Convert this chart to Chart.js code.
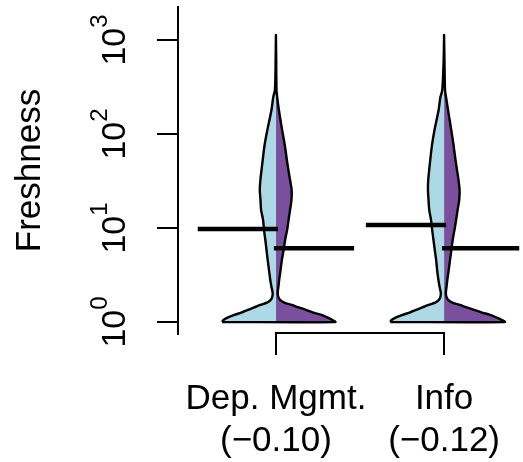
<!DOCTYPE html>
<html>
<head>
<meta charset="utf-8">
<script src="https://cdn.jsdelivr.net/npm/chart.js@4.4.1/dist/chart.umd.min.js"></script>
<style>
html,body{margin:0;padding:0;background:#fff;}
#wrap{width:523px;height:462px;}
</style>
</head>
<body>
<div id="wrap"><canvas id="c" width="523" height="462"></canvas></div>
<script>
// ---------------- data ----------------
const categories = ['Dep. Mgmt.', 'Info'];
const correlations = ['(\u22120.10)', '(\u22120.12)'];
const yTickValues = [1, 10, 100, 1000];
const yTickExponents = ['0', '1', '2', '3'];

// Freshness levels at which the bean densities were read
const freshnessLevels = [1.00, 1.05, 1.10, 1.19, 1.26, 1.34, 1.43, 1.52, 1.61, 1.71, 1.84, 2.03, 2.36, 2.8, 3.57, 4.56,
  5.83, 7.45, 9.5, 12.2, 15.6, 19.8, 25.3, 32.4, 49.2, 76, 110, 180, 247, 294, 614, 1130];

// densities (relative units) for each half bean
const depMgmtBlueDensity = [5.45, 5.3, 5.0, 4.2, 3.5, 2.9, 2.2, 1.57, 0.9, 0.55, 0.38, 0.33, 0.45, 0.57, 0.70, 0.83,
  0.95, 1.07, 1.20, 1.30, 1.50, 1.56, 1.63, 1.57, 1.37, 1.15, 0.87, 0.45, 0.27, 0.10, 0.03, 0];
const depMgmtPurpleDensity = [6.0, 5.7, 5.35, 4.6, 3.8, 3.1, 2.3, 1.6, 0.85, 0.45, 0.25, 0.18, 0.25, 0.33, 0.47, 0.60,
  0.78, 0.93, 1.13, 1.28, 1.43, 1.57, 1.59, 1.43, 1.15, 0.90, 0.63, 0.30, 0.13, 0.06, 0.03, 0];
const infoBlueDensity = [5.45, 5.3, 5.0, 4.2, 3.5, 2.9, 2.2, 1.57, 0.9, 0.55, 0.38, 0.33, 0.45, 0.57, 0.70, 0.80,
  0.94, 1.07, 1.20, 1.32, 1.50, 1.57, 1.63, 1.60, 1.43, 1.22, 0.97, 0.55, 0.37, 0.18, 0.04, 0];
const infoPurpleDensity = [6.15, 5.85, 5.45, 4.65, 3.85, 3.1, 2.3, 1.6, 0.85, 0.45, 0.25, 0.18, 0.25, 0.33, 0.47, 0.60,
  0.74, 0.87, 1.05, 1.22, 1.37, 1.53, 1.57, 1.46, 1.20, 0.96, 0.73, 0.40, 0.20, 0.10, 0.04, 0];

const meanBlue = [9.76, 10.77];
const meanPurple = [6.08, 6.08];

// ---------------- styling ----------------
const FONT = "'Liberation Sans', Arial, Helvetica, sans-serif";
const BLUE = '#ADD8E6';
const PURPLE = '#7A509E';
const beanScale = 10 / 170;      // category units per density unit
const beanLineLong = 0.465;      // beanline length (category units)
const beanLineShort = 0.012;
const SMOOTH = 0.3;

const blueDensities = [depMgmtBlueDensity, infoBlueDensity];
const purpleDensities = [depMgmtPurpleDensity, infoPurpleDensity];

function halfShape(center, dens, sign) {
  const pts = [{x: center, y: freshnessLevels[0]}];
  dens.forEach((d, i) => pts.push({x: center + sign * d * beanScale, y: freshnessLevels[i]}));
  pts.push({x: center, y: freshnessLevels[freshnessLevels.length - 1]});
  return pts;
}
function outlineShape(center, L, R) {
  const pts = [];
  L.forEach((d, i) => pts.push({x: center - d * beanScale, y: freshnessLevels[i]}));
  for (let i = R.length - 1; i >= 0; i--) pts.push({x: center + R[i] * beanScale, y: freshnessLevels[i]});
  pts.push({x: pts[0].x, y: pts[0].y});
  return pts;
}

const datasets = [];
// beanlines (drawn on top => first)
categories.forEach((c, i) => {
  const center = i + 1;
  datasets.push({
    label: c + ' mean (blue)',
    data: [{x: center - beanLineLong, y: meanBlue[i]}, {x: center + beanLineShort, y: meanBlue[i]}],
    borderColor: '#000', borderWidth: 4.5, borderCapStyle: 'butt', pointRadius: 0, fill: false
  });
  datasets.push({
    label: c + ' mean (purple)',
    data: [{x: center - beanLineShort, y: meanPurple[i]}, {x: center + beanLineLong, y: meanPurple[i]}],
    borderColor: '#000', borderWidth: 4.5, borderCapStyle: 'butt', pointRadius: 0, fill: false
  });
});
// outlines
categories.forEach((c, i) => {
  datasets.push({
    label: c + ' outline',
    data: outlineShape(i + 1, blueDensities[i], purpleDensities[i]),
    borderColor: '#000', borderWidth: 2.4, borderJoinStyle: 'round', pointRadius: 0, fill: false, tension: SMOOTH
  });
});
// fills
categories.forEach((c, i) => {
  datasets.push({
    label: c + ' blue',
    data: halfShape(i + 1, blueDensities[i], -1),
    borderColor: 'rgba(0,0,0,0)', backgroundColor: BLUE, borderWidth: 1, pointRadius: 0, fill: 'shape', tension: SMOOTH
  });
  datasets.push({
    label: c + ' purple',
    data: halfShape(i + 1, purpleDensities[i], 1),
    borderColor: 'rgba(0,0,0,0)', backgroundColor: PURPLE, borderWidth: 1, pointRadius: 0, fill: 'shape', tension: SMOOTH
  });
});

const rAxisPlugin = {
  id: 'rAxis',
  afterDraw(chart) {
    const {ctx, chartArea} = chart;
    const x = chart.scales.x, y = chart.scales.y;
    ctx.save();
    // x axis line between first and last category tick
    ctx.strokeStyle = '#000';
    ctx.lineWidth = 2;
    ctx.lineCap = 'square';
    ctx.beginPath();
    ctx.moveTo(x.getPixelForValue(1), chartArea.bottom - 1);
    ctx.lineTo(x.getPixelForValue(categories.length), chartArea.bottom - 1);
    ctx.stroke();
    // y tick labels 10^k, rotated
    ctx.fillStyle = '#000';
    ctx.textAlign = 'left';
    ctx.textBaseline = 'alphabetic';
    y.ticks.forEach((t) => {
      const idx = yTickValues.indexOf(t.value);
      if (idx < 0) return;
      const py = y.getPixelForValue(t.value);
      ctx.font = '34px ' + FONT;
      const w1 = ctx.measureText('10').width;
      ctx.font = '24px ' + FONT;
      const w2 = ctx.measureText(yTickExponents[idx]).width;
      const total = w1 + w2;
      ctx.save();
      ctx.translate(chartArea.left - 53, py);
      ctx.rotate(-Math.PI / 2);
      ctx.font = '34px ' + FONT;
      ctx.fillText('10', -total / 2, 0);
      ctx.font = '24px ' + FONT;
      ctx.fillText(yTickExponents[idx], -total / 2 + w1, -18);
      ctx.restore();
    });
    ctx.restore();
  }
};

new Chart(document.getElementById('c'), {
  type: 'line',
  data: {datasets},
  options: {
    responsive: false,
    animation: false,
    devicePixelRatio: 1,
    layout: {padding: {top: 7, left: 0, right: 0, bottom: 0}},
    plugins: {legend: {display: false}, tooltip: {enabled: false}},
    scales: {
      x: {
        type: 'linear',
        bounds: 'data',
        min: 1 - 99 / 170,
        max: 2 + 76 / 170,
        afterBuildTicks: (s) => { s.ticks = categories.map((c, i) => ({value: i + 1})); },
        afterFit: (s) => { s.height = 128; },
        ticks: {
          callback: (v) => { const i = Math.round(v) - 1; return [categories[i], correlations[i]]; },
          font: {family: FONT, size: 35, lineHeight: 1.2},
          color: '#000',
          padding: 23,
          maxRotation: 0, minRotation: 0,
          autoSkip: false
        },
        grid: {display: true, drawOnChartArea: false, drawTicks: true, tickLength: 21, color: '#000', lineWidth: 2},
        border: {display: false}
      },
      y: {
        type: 'logarithmic',
        bounds: 'data',
        min: Math.pow(10, -12 / 94),
        max: Math.pow(10, 315 / 94),
        afterBuildTicks: (s) => { s.ticks = yTickValues.map(v => ({value: v})); },
        afterFit: (s) => { s.width = 178; },
        ticks: {display: false},
        grid: {display: true, drawOnChartArea: false, drawTicks: true, tickLength: 21, color: '#000', lineWidth: 2},
        border: {display: true, color: '#000', width: 2},
        title: {display: true, text: 'Freshness', color: '#000', font: {family: FONT, size: 35, lineHeight: 1.2}, padding: {top: 9, bottom: 0}}
      }
    }
  },
  plugins: [rAxisPlugin]
});
</script>
</body>
</html>
